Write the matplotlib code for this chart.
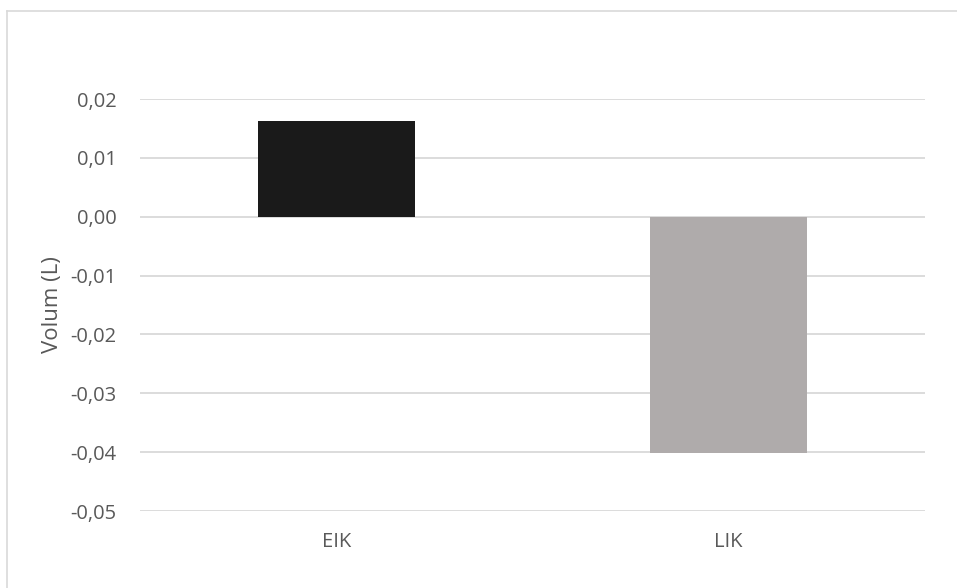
import matplotlib.pyplot as plt
from matplotlib.lines import Line2D
from matplotlib.ticker import FixedLocator, FuncFormatter

# volume change per group
categories = ['EIK', 'LIK']
volumes = [0.0163, -0.0402]
bar_colors = ['#1a1a1a', '#afabab']
y_ticks = [0.02, 0.01, 0.00, -0.01, -0.02, -0.03, -0.04, -0.05]

text_color = '#595959'
grid_color = '#d9d9d9'
plt.rcParams['font.family'] = ['Open Sans', 'DejaVu Sans']

W, H = 957, 588
fig = plt.figure(figsize=(W / 100, H / 100), dpi=100)
# plot area in pixels: left 140, right 925, top 99, bottom 511
ax = fig.add_axes([140 / W, 1 - 511 / H, (925 - 140) / W, (511 - 99) / H])

x = list(range(len(categories)))
ax.bar(x, volumes, width=0.4, color=bar_colors, zorder=3)

ax.set_xlim(-0.5, len(categories) - 0.5)
ax.set_ylim(min(y_ticks), max(y_ticks))
ax.yaxis.set_major_locator(FixedLocator(y_ticks))
ax.yaxis.set_major_formatter(
    FuncFormatter(lambda v, _: f'{v:.2f}'.replace('.', ',').replace('-0,00', '0,00')))
ax.set_xticks(x)
ax.set_xticklabels(categories)

ax.grid(axis='y', color=grid_color, linewidth=1.3, zorder=0)
for s in ax.spines.values():
    s.set_visible(False)
ax.tick_params(axis='both', length=0, colors=text_color, labelsize=14.5)
ax.tick_params(axis='y', pad=17)
ax.tick_params(axis='x', pad=15)
ax.set_ylabel('Volum (L)', color=text_color, fontsize=16, labelpad=5)

# outer chart frame (left and top edges)
fig.add_artist(Line2D([7 / W, 7 / W], [0, 1 - 11 / H], transform=fig.transFigure,
                      color=grid_color, linewidth=1.2))
fig.add_artist(Line2D([7 / W, 1], [1 - 11 / H, 1 - 11 / H], transform=fig.transFigure,
                      color=grid_color, linewidth=1.2))

fig.savefig('out.png', dpi=100, facecolor='white')
